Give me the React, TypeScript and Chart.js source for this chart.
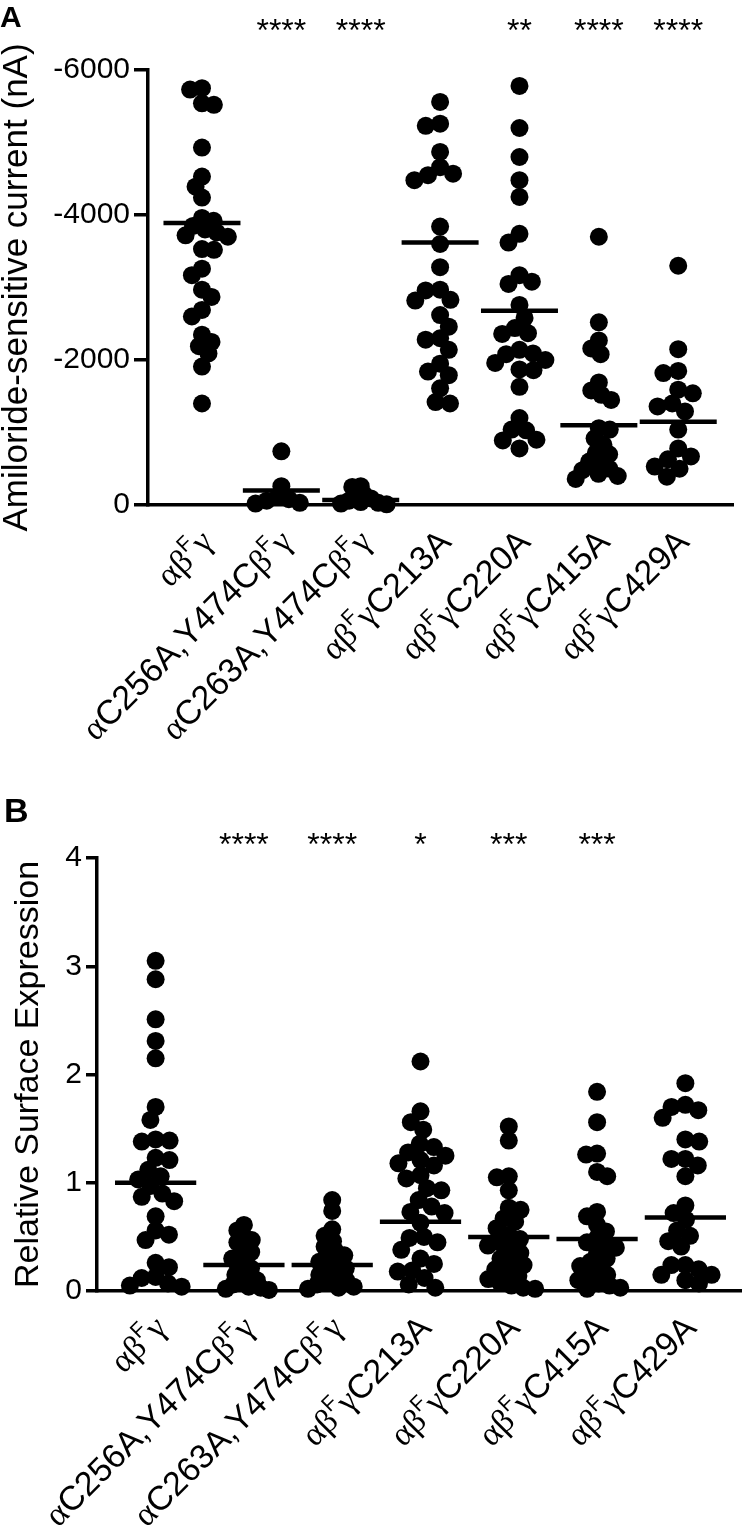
import React, { useEffect, useRef } from "react";
import { Chart, registerables } from "chart.js";

Chart.register(...registerables);

const SANS = '"Liberation Sans", Arial, Helvetica, sans-serif';
const SERIF = '"Liberation Serif", "Times New Roman", serif';

// "^" marks the next character as superscript
const CATEGORIES = [
  "αβ^Fγ",
  "αC256A,Y474Cβ^Fγ",
  "αC263A,Y474Cβ^Fγ",
  "αβ^FγC213A",
  "αβ^FγC220A",
  "αβ^FγC415A",
  "αβ^FγC429A",
];

// ---------- Panel A : amiloride-sensitive current (nA) ----------
const A_TICKS = [-6000, -4000, -2000, 0];
const A_SIG = ["", "****", "****", "", "**", "****", "****"];
const A_MEANS = [-3890, -200, -70, -3620, -2680, -1100, -1150];

const A_WT = [-5750, -5730, -5540, -5520, -4930, -4530, -4390, -4240, -3960, -3920, -3850, -3800, -3760, -3720, -3700, -3530, -3520, -3260, -3170, -2970, -2870, -2690, -2600, -2350, -2250, -2190, -2090, -1910, -1400];
const A_C256 = [-740, -260, -110, -80, -60, -30, -20];
const A_C263 = [-260, -250, -150, -140, -90, -60, -40, -30, -20, -10];
const A_C213 = [-5560, -5260, -5230, -4870, -4660, -4570, -4550, -4480, -3840, -3600, -3280, -2970, -2960, -2830, -2820, -2620, -2460, -2300, -2280, -2140, -1950, -1840, -1790, -1610, -1420, -1400];
const A_C220 = [-5780, -5200, -4800, -4480, -4250, -3740, -3620, -3170, -3080, -3050, -2760, -2580, -2440, -2370, -2360, -2140, -2090, -2080, -2000, -1960, -1870, -1860, -1630, -1200, -1040, -1030, -900, -890, -780];
const A_C415 = [-3700, -2520, -2270, -2160, -2080, -1690, -1580, -1520, -1450, -1060, -1040, -920, -830, -720, -700, -600, -580, -500, -480, -430, -400, -360];
const A_C429 = [-3300, -2150, -1850, -1820, -1590, -1540, -1400, -1360, -1290, -1040, -780, -670, -630, -530, -500, -390];

// ---------- Panel B : relative surface expression ----------
const B_TICKS = [0, 1, 2, 3, 4];
const B_SIG = ["", "****", "****", "*", "***", "***", ""];
const B_MEANS = [1.0, 0.24, 0.24, 0.64, 0.5, 0.48, 0.68];

const B_WT = [3.05, 2.88, 2.51, 2.31, 2.15, 1.7, 1.58, 1.4, 1.39, 1.38, 1.23, 1.21, 1.12, 1.06, 1.03, 0.97, 0.9, 0.87, 0.83, 0.69, 0.56, 0.52, 0.47, 0.26, 0.22, 0.13, 0.12, 0.07, 0.05, 0.04];
const B_C256 = [0.61, 0.56, 0.5, 0.47, 0.45, 0.4, 0.36, 0.33, 0.3, 0.27, 0.24, 0.21, 0.18, 0.15, 0.12, 0.1, 0.08, 0.06, 0.04, 0.03, 0.02, 0.01];
const B_C263 = [0.84, 0.74, 0.57, 0.51, 0.46, 0.41, 0.37, 0.33, 0.3, 0.27, 0.24, 0.21, 0.18, 0.15, 0.12, 0.1, 0.08, 0.06, 0.04, 0.03, 0.02];
const B_C213 = [2.12, 1.66, 1.56, 1.49, 1.36, 1.33, 1.28, 1.25, 1.21, 1.18, 1.16, 1.07, 1.04, 0.95, 0.93, 0.84, 0.78, 0.73, 0.72, 0.63, 0.5, 0.49, 0.45, 0.38, 0.3, 0.25, 0.19, 0.18, 0.12, 0.06, 0.03];
const B_C220 = [1.52, 1.39, 1.06, 1.05, 0.93, 0.77, 0.75, 0.67, 0.64, 0.58, 0.52, 0.48, 0.45, 0.42, 0.38, 0.35, 0.3, 0.27, 0.24, 0.2, 0.17, 0.14, 0.11, 0.08, 0.05, 0.03, 0.02];
const B_C415 = [1.84, 1.56, 1.27, 1.26, 1.1, 1.06, 0.73, 0.69, 0.61, 0.55, 0.49, 0.45, 0.42, 0.4, 0.35, 0.3, 0.27, 0.23, 0.19, 0.15, 0.12, 0.1, 0.07, 0.05, 0.03, 0.02];
const B_C429 = [1.92, 1.72, 1.7, 1.67, 1.6, 1.4, 1.38, 1.22, 1.22, 1.16, 1.06, 0.79, 0.72, 0.66, 0.56, 0.51, 0.46, 0.41, 0.24, 0.24, 0.2, 0.15, 0.15, 0.1, 0.07];

type PanelSpec = {
  width: number;
  height: number;
  left: number;
  right: number;
  top: number;
  bottom: number;
  xMin: number;
  xMax: number;
  yMin: number;
  yMax: number;
  reverse: boolean;
  ticks: number[];
  tickSize: number;
  tickLength: number;
  title: string;
  titleSize: number;
  titlePad: number;
  letter: string;
  letterSize: number;
  letterX: number;
  letterY: number;
  sig: string[];
  sigSize: number;
  sigY: number;
  groups: number[][];
  means: number[];
  meanHalf: number;
  swarmHalf: number;
  labelSize: number;
  labelDx: number;
  labelDy: number;
  labelAngle: number;
};

const SPEC_A: PanelSpec = {
  width: 750,
  height: 770,
  left: 148,
  right: 733,
  top: 70,
  bottom: 505,
  xMin: -0.68,
  xMax: 6.69,
  yMin: -6000,
  yMax: 0,
  reverse: true,
  ticks: A_TICKS,
  tickSize: 30,
  tickLength: 14,
  title: "Amiloride-sensitive current (nA)",
  titleSize: 35,
  titlePad: 0,
  letter: "A",
  letterSize: 30,
  letterX: 0,
  letterY: 27,
  sig: A_SIG,
  sigSize: 32,
  sigY: 41,
  groups: [A_WT, A_C256, A_C263, A_C213, A_C220, A_C415, A_C429],
  means: A_MEANS,
  meanHalf: 0.485,
  swarmHalf: 26,
  labelSize: 34,
  labelDx: 4,
  labelDy: 30,
  labelAngle: 45,
};

const SPEC_B: PanelSpec = {
  width: 750,
  height: 768,
  left: 97,
  right: 745,
  top: 88,
  bottom: 521,
  xMin: -0.664,
  xMax: 6.63,
  yMin: 0,
  yMax: 4,
  reverse: false,
  ticks: B_TICKS,
  tickSize: 30,
  tickLength: 11,
  title: "Relative Surface Expression",
  titleSize: 34,
  titlePad: 12,
  letter: "B",
  letterSize: 34,
  letterX: 4,
  letterY: 52,
  sig: B_SIG,
  sigSize: 32,
  sigY: 85,
  groups: [B_WT, B_C256, B_C263, B_C213, B_C220, B_C415, B_C429],
  means: B_MEANS,
  meanHalf: 0.46,
  swarmHalf: 27,
  labelSize: 34,
  labelDx: 4,
  labelDy: 30,
  labelAngle: 45,
};

// simple beeswarm: offsets (in px) that keep dots at least d apart
function swarm(yp: number[], d: number): number[] {
  const order = yp.map((_, i) => i).sort((a, b) => yp[a] - yp[b]);
  const placed: { x: number; y: number }[] = [];
  const out = new Array(yp.length).fill(0);
  let flip = 1;
  for (const i of order) {
    const y = yp[i];
    const iv: [number, number][] = [];
    for (const p of placed) {
      const dy = Math.abs(p.y - y);
      if (dy < d) {
        const w = Math.sqrt(d * d - dy * dy);
        iv.push([p.x - w, p.x + w]);
      }
    }
    const cands = [0];
    iv.forEach(([a, b]) => cands.push(a, b));
    cands.sort((a, b) => {
      const da = Math.abs(a) - Math.abs(b);
      if (Math.abs(da) > 1e-6) return da;
      return flip * (a - b);
    });
    let best = 0;
    for (const c of cands) {
      if (iv.every(([a, b]) => c <= a + 1e-6 || c >= b - 1e-6)) {
        best = c;
        break;
      }
    }
    if (best !== 0) flip = -flip;
    out[i] = best;
    placed.push({ x: best, y });
  }
  return out;
}

// shrink the spacing until the swarm fits in the column
function fitSwarm(yp: number[], half: number): number[] {
  let offs = swarm(yp, 15);
  for (let d = 15; d >= 5; d -= 0.5) {
    offs = swarm(yp, d);
    if (Math.max(...offs.map(Math.abs)) <= half) break;
  }
  return offs;
}

type Seg = { t: string; sup: boolean; greek: boolean; w: number };

function segments(label: string): Seg[] {
  const out: Seg[] = [];
  for (let i = 0; i < label.length; i++) {
    let ch = label[i];
    let sup = false;
    if (ch === "^") {
      sup = true;
      i++;
      ch = label[i];
    }
    out.push({ t: ch, sup, greek: /[α-ω]/.test(ch), w: 0 });
  }
  return out;
}

function annotatePlugin(spec: PanelSpec) {
  return {
    id: "annotate",
    afterDraw(chart: any) {
      const ctx: CanvasRenderingContext2D = chart.ctx;
      const xs = chart.scales.x;
      const bottom = chart.chartArea.bottom;
      ctx.save();
      ctx.fillStyle = "#000";
      ctx.textBaseline = "alphabetic";

      ctx.font = `bold ${spec.letterSize}px ${SANS}`;
      ctx.textAlign = "left";
      ctx.fillText(spec.letter, spec.letterX, spec.letterY);

      ctx.font = `${spec.sigSize}px ${SANS}`;
      ctx.textAlign = "center";
      spec.sig.forEach((s, i) => {
        if (s) ctx.fillText(s, xs.getPixelForValue(i), spec.sigY);
      });

      const s = spec.labelSize;
      const fontFor = (g: Seg) =>
        `${g.sup ? Math.round(s * 0.62) : s}px ${g.greek ? SERIF : SANS}`;
      ctx.textAlign = "left";
      CATEGORIES.forEach((lab, i) => {
        const segs = segments(lab);
        let total = 0;
        segs.forEach((g) => {
          ctx.font = fontFor(g);
          g.w = ctx.measureText(g.t).width;
          total += g.w;
        });
        ctx.save();
        ctx.translate(xs.getPixelForValue(i) + spec.labelDx, bottom + spec.labelDy);
        ctx.rotate((-spec.labelAngle * Math.PI) / 180);
        let cx = -total;
        segs.forEach((g) => {
          ctx.font = fontFor(g);
          ctx.fillText(g.t, cx, g.sup ? -0.06 * s : 0.36 * s);
          cx += g.w;
        });
        ctx.restore();
      });
      ctx.restore();
    },
  };
}

function Panel({ spec }: { spec: PanelSpec }) {
  const ref = useRef<HTMLCanvasElement>(null);
  useEffect(() => {
    const canvas = ref.current;
    if (!canvas) return;
    const initial = spec.groups.flatMap((vals, gi) => vals.map((v) => ({ x: gi, y: v })));
    const meanPts: any[] = [];
    spec.means.forEach((m, i) => {
      meanPts.push({ x: i - spec.meanHalf, y: m });
      meanPts.push({ x: i + spec.meanHalf, y: m });
      meanPts.push({ x: i + 0.5, y: null });
    });
    const chart = new Chart(canvas, {
      type: "scatter",
      data: {
        datasets: [
          {
            type: "scatter",
            data: initial,
            pointRadius: 9,
            pointHoverRadius: 9,
            pointBackgroundColor: "#000",
            pointBorderWidth: 0,
            backgroundColor: "#000",
            borderColor: "#000",
            clip: false,
            order: 2,
          } as any,
          {
            type: "line",
            data: meanPts,
            borderColor: "#000",
            borderWidth: 4.5,
            pointRadius: 0,
            spanGaps: false,
            fill: false,
            clip: false,
            order: 1,
          } as any,
        ],
      },
      options: {
        responsive: false,
        maintainAspectRatio: false,
        animation: false,
        events: [],
        layout: {
          padding: {
            left: 0,
            top: spec.top,
            right: spec.width - spec.right,
            bottom: spec.height - spec.bottom,
          },
        },
        plugins: {
          legend: { display: false },
          tooltip: { enabled: false },
          title: { display: false },
        },
        scales: {
          x: {
            type: "linear",
            min: spec.xMin,
            max: spec.xMax,
            grid: { display: false },
            ticks: { display: false },
            border: { display: true, color: "#000", width: 3.5 },
            afterFit: (sc: any) => {
              sc.height = 0;
            },
          },
          y: {
            type: "linear",
            min: spec.yMin,
            max: spec.yMax,
            reverse: spec.reverse,
            afterBuildTicks: (sc: any) => {
              sc.ticks = spec.ticks.map((v) => ({ value: v }));
            },
            ticks: {
              color: "#000",
              font: { family: SANS, size: spec.tickSize },
              padding: 4,
              callback: (v: any) => String(v),
            },
            grid: {
              drawOnChartArea: false,
              drawTicks: true,
              tickLength: spec.tickLength,
              lineWidth: 3.5,
              color: "#000",
            },
            border: { display: true, color: "#000", width: 3.5 },
            title: {
              display: true,
              text: spec.title,
              color: "#000",
              font: { family: SANS, size: spec.titleSize, lineHeight: 1 },
              padding: { top: spec.titlePad, bottom: 0 },
            },
            afterFit: (sc: any) => {
              sc.width = spec.left;
            },
          },
        },
      } as any,
      plugins: [annotatePlugin(spec)],
    });

    // lay the dots out as a beeswarm using the chart's own scales
    const xs: any = chart.scales.x;
    const ys: any = chart.scales.y;
    const pxPerX = xs.getPixelForValue(1) - xs.getPixelForValue(0);
    const pts: { x: number; y: number }[] = [];
    spec.groups.forEach((vals, gi) => {
      const offs = fitSwarm(vals.map((v) => ys.getPixelForValue(v)), spec.swarmHalf);
      vals.forEach((v, k) => pts.push({ x: gi + offs[k] / pxPerX, y: v }));
    });
    (chart.data.datasets[0] as any).data = pts;
    chart.update();

    return () => chart.destroy();
  }, [spec]);
  return (
    <canvas
      ref={ref}
      width={spec.width}
      height={spec.height}
      style={{ display: "block", width: spec.width, height: spec.height }}
    />
  );
}

export default function App() {
  return (
    <div
      style={{
        position: "absolute",
        left: 0,
        top: 0,
        width: 750,
        height: 1538,
        background: "#fff",
      }}
    >
      <Panel spec={SPEC_A} />
      <Panel spec={SPEC_B} />
    </div>
  );
}
